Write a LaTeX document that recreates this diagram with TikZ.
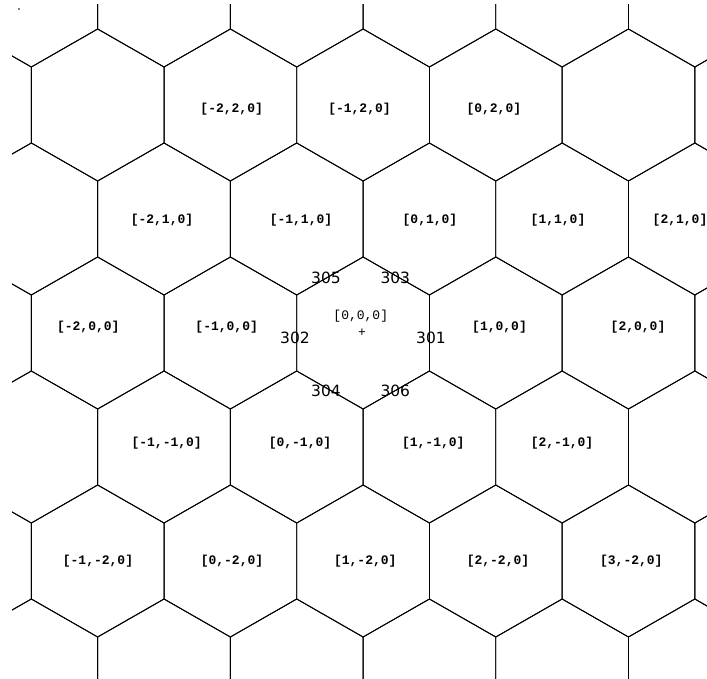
\documentclass[tikz,border=0pt]{standalone}
\usepackage{fontspec}
\usepackage{tikz}
\newfontfamily\cellfont{Liberation Mono}
\newfontfamily\edgefont{DejaVu Sans}
\tikzset{
  hexline/.style={draw=black,line width=0.9pt,line join=miter},
  cell/.style={font=\cellfont\bfseries\fontsize{13}{13}\selectfont,inner sep=0pt},
  cellhome/.style={font=\cellfont\fontsize{13}{13}\selectfont,inner sep=0pt},
  edgeid/.style={font=\edgefont\fontsize{15.5}{15.5}\selectfont,inner sep=0pt}
}

\begin{document}
\begin{tikzpicture}[x=1pt,y=-1pt]
    \useasboundingbox (0,0) rectangle (707,679);
    % hex grid, clipped to the frame
    \begin{scope}
      \clip (12,5) rectangle (707,679);
      \foreach \row in {0,...,6} {
        \foreach \col in {-1,...,5} {
          \pgfmathsetmacro\cx{(isodd(\row) ? 97.7 : 31.3)+132.7*\col}
          \pgfmathsetmacro\cy{-9+114*\row}
          \draw[hexline] (\cx,\cy) ++(0,-76) -- ++(66.35,38) -- ++(0,76) -- ++(-66.35,38) -- ++(-66.35,-38) -- ++(0,-76) -- cycle;
        }
      }
    \end{scope}
    \fill (19,9) circle (0.8);

    \node[cell] (cm2p2) at (231.7,109.5) {[-2,2,0]};
    \node[cell] (cm1p2) at (359.5,109.5) {[-1,2,0]};
    \node[cell] (c0p2) at (493.8,109.5) {[0,2,0]};

    \node[cell] (cm2p1) at (162,220.5) {[-2,1,0]};
    \node[cell] (cm1p1) at (301,220.5) {[-1,1,0]};
    \node[cell] (c0p1) at (430,220.5) {[0,1,0]};
    \node[cell] (c1p1) at (558,220.5) {[1,1,0]};
    \node[cell] (c2p1) at (680,220.5) {[2,1,0]};

    \node[cell] (cm2p0) at (88.3,327.5) {[-2,0,0]};
    \node[cell] (cm1p0) at (226.7,327.5) {[-1,0,0]};
    \node[cellhome] (c0p0) at (360.8,316.5) {[0,0,0]};
    \node[cellhome] (origin) at (362,333) {+};
    \node[cell] (c1p0) at (499.5,327.5) {[1,0,0]};
    \node[cell] (c2p0) at (638,327.5) {[2,0,0]};

    \node[cell] (cm1m1) at (166.7,443.5) {[-1,-1,0]};
    \node[cell] (c0m1) at (300,443.5) {[0,-1,0]};
    \node[cell] (c1m1) at (433.3,443.5) {[1,-1,0]};
    \node[cell] (c2m1) at (562,443.5) {[2,-1,0]};

    \node[cell] (cm1m2) at (98,561.5) {[-1,-2,0]};
    \node[cell] (c0m2) at (232,561.5) {[0,-2,0]};
    \node[cell] (c1m2) at (365.3,561.5) {[1,-2,0]};
    \node[cell] (c2m2) at (498,561.5) {[2,-2,0]};
    \node[cell] (c3m2) at (631.3,561.5) {[3,-2,0]};

    % edge ids round the home cell
    \node[edgeid] (e305) at (326,278.3) {305};
    \node[edgeid] (e303) at (395.3,278.3) {303};
    \node[edgeid] (e302) at (295,337.5) {302};
    \node[edgeid] (e301) at (431,337.5) {301};
    \node[edgeid] (e304) at (326,390.7) {304};
    \node[edgeid] (e306) at (395.3,390.7) {306};
\end{tikzpicture}
\end{document}
